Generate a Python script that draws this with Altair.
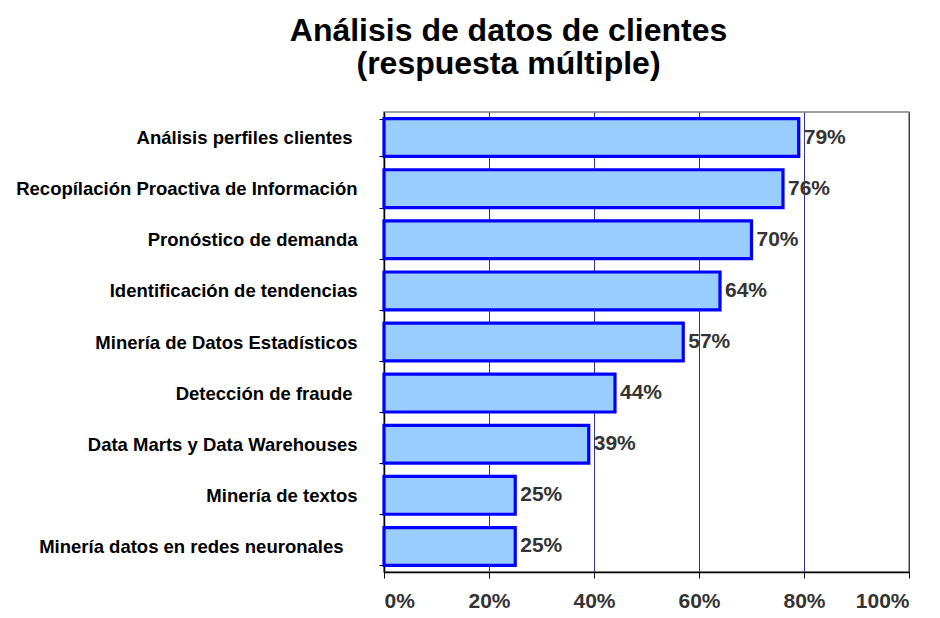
import altair as alt
import pandas as pd

categories = [
    "Análisis perfiles clientes",
    "Recopílación Proactiva de Información",
    "Pronóstico de demanda",
    "Identificación de tendencias",
    "Minería de Datos Estadísticos",
    "Detección de fraude",
    "Data Marts y Data Warehouses",
    "Minería de textos",
    "Minería datos en redes neuronales",
]
values = [0.79, 0.76, 0.70, 0.64, 0.57, 0.44, 0.39, 0.25, 0.25]
x_ticks = [0, 0.2, 0.4, 0.6, 0.8, 1.0]

df = pd.DataFrame({"cat": categories, "val": values})

FONT = "Liberation Sans"

label_pad = {
    "condition": [
        {"test": "datum.value === 'Minería datos en redes neuronales'", "value": 36},
        {"test": "datum.value === 'Análisis perfiles clientes' || datum.value === 'Detección de fraude'", "value": 27},
    ],
    "value": 22,
}

y = alt.Y(
    "cat:N",
    sort=categories,
    title=None,
    scale=alt.Scale(paddingInner=0.26, paddingOuter=0.13),
    axis=alt.Axis(
        labelFont=FONT, labelFontSize=18.5, labelFontWeight="bold", labelColor="#000000",
        labelPadding=label_pad, tickBand="extent", tickSize=5, tickColor="#000000",
        domainColor="#000000", domainWidth=1.5, labelLimit=400, grid=False,
    ),
)
x = alt.X(
    "val:Q",
    title=None,
    scale=alt.Scale(domain=[0, 1], nice=False, zero=True),
    axis=alt.Axis(
        values=x_ticks, format=".0%", labelFont=FONT, labelFontSize=21,
        labelFontWeight="bold", labelColor="#333333", labelPadding=12,
        tickSize=6, tickColor="#000000", domainColor="#000000", domainWidth=1.5,
        grid=True, gridColor="#333399", gridWidth=1,
    ),
)

bars = alt.Chart(df).mark_bar(
    color="#99CCFF", stroke="#0000FF", strokeWidth=3.2
).encode(x=x, y=y)

labels = alt.Chart(df).mark_text(
    align="left", baseline="middle", dx=5, font=FONT, fontSize=21,
    fontWeight="bold", color="#333333"
).encode(
    x=alt.X("val:Q", scale=alt.Scale(domain=[0, 1], nice=False)),
    y=alt.Y("cat:N", sort=categories),
    text=alt.Text("val:Q", format=".0%"),
)

chart = alt.layer(bars, labels).properties(
    width=525,
    height=460,
    autosize=alt.AutoSizeParams(type="none"),
    padding={"left": 376, "top": 104, "right": 20, "bottom": 40},
    title=alt.TitleParams(
        text=["Análisis de datos de clientes", "(respuesta múltiple)"],
        font=FONT, fontSize=32, fontWeight="bold", color="#000000",
        anchor="middle", dx=-138, offset=22, lineHeight=33,
    ),
).configure_view(stroke="#808080", strokeWidth=1.5)

chart.save("out.html", embed_options={"renderer": "svg", "actions": False})
